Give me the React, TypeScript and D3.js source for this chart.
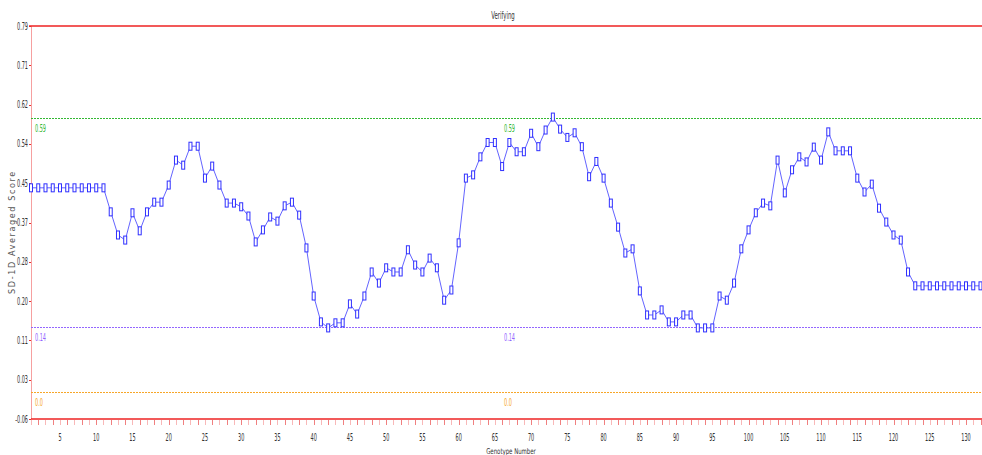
import React from "react";
import * as d3 from "d3";

const titleText = "Verifying";
const xTitle = "Genotype Number";
const yTitle = "SD-1D Averaged Score";

const yTickValues = [-0.06, 0.025, 0.11, 0.195, 0.28, 0.365, 0.45, 0.535, 0.62, 0.705, 0.79];
const yTickLabels = ["-0.06", "0.03", "0.11", "0.20", "0.28", "0.37", "0.45", "0.54", "0.62", "0.71", "0.79"];
const xTickValues = [5, 10, 15, 20, 25, 30, 35, 40, 45, 50, 55, 60, 65, 70, 75, 80, 85, 90, 95, 100, 105, 110, 115, 120, 125, 130];

const refValues = [0.592, 0.138, -0.002];
const refLabels = ["0.59", "0.14", "0.0"];
const refColors = ["#33b833", "#9466ff", "#f7a628"];

const scores = [
  0.44, 0.44, 0.44, 0.44, 0.44, 0.44, 0.44, 0.44, 0.44, 0.44,
  0.44, 0.388, 0.338, 0.327, 0.386, 0.347, 0.388, 0.409, 0.409, 0.446,
  0.5, 0.489, 0.53, 0.53, 0.461, 0.487, 0.446, 0.407, 0.407, 0.399,
  0.379, 0.323, 0.349, 0.377, 0.368, 0.401, 0.409, 0.381, 0.31, 0.206,
  0.15, 0.137, 0.148, 0.148, 0.189, 0.167, 0.206, 0.258, 0.234, 0.267,
  0.258, 0.258, 0.306, 0.273, 0.258, 0.288, 0.267, 0.197, 0.219, 0.321,
  0.461, 0.468, 0.507, 0.538, 0.538, 0.486, 0.538, 0.518, 0.518, 0.558,
  0.529, 0.565, 0.593, 0.567, 0.549, 0.559, 0.529, 0.464, 0.497, 0.461,
  0.407, 0.355, 0.299, 0.308, 0.217, 0.165, 0.165, 0.176, 0.15, 0.15,
  0.165, 0.165, 0.137, 0.137, 0.137, 0.206, 0.197, 0.234, 0.308, 0.349,
  0.386, 0.407, 0.401, 0.5, 0.429, 0.479, 0.507, 0.496, 0.528, 0.5,
  0.561, 0.52, 0.52, 0.52, 0.461, 0.431, 0.448, 0.396, 0.366, 0.338,
  0.327, 0.258, 0.228, 0.228, 0.228, 0.228, 0.228, 0.228, 0.228, 0.228,
  0.228, 0.228,
];

const FONT = "'DejaVu Sans Condensed', 'Liberation Sans Narrow', sans-serif";

function NarrowText({ x, y, anchor = "start", size = 10, sx = 0.6, fill = "#333", rotate = 0, spacing = 0, children }: any) {
  return (
    <g transform={`translate(${x},${y}) rotate(${rotate}) scale(${sx},1)`}>
      <text x={0} y={0} textAnchor={anchor} fontFamily={FONT} fontSize={size} fill={fill} letterSpacing={spacing}>
        {children}
      </text>
    </g>
  );
}

export default function App() {
  const W = 982;
  const H = 455;
  const left = 31;
  const right = 982;
  const top = 26;
  const bottom = 419;

  const x = d3.scaleLinear().domain([1, 132]).range([left, 980.5]);
  const y = d3.scaleLinear().domain([-0.06, 0.79]).range([bottom, top]);

  const line = d3
    .line<number>()
    .x((_, i) => x(i + 1))
    .y((d) => y(d));

  const minorTicks = d3.range(1, 133);

  return (
    <svg
      width={W}
      height={H}
      style={{ position: "absolute", left: 0, top: 0, background: "#fff" }}
    >
      <rect x={0} y={0} width={W} height={H} fill="#fff" />
      {/* title */}
      <NarrowText x={503} y={19} anchor="middle" size={10} sx={0.6}>{titleText}</NarrowText>

      {/* y axis line */}
      <line x1={left + 0.5} x2={left + 0.5} y1={top} y2={bottom} stroke="#f6a0a0" strokeWidth={1} />

      {/* y ticks */}
      {yTickValues.map((v, i) => (
        <g key={"yt" + i}>
          <line x1={left - 2} x2={left} y1={Math.round(y(v)) + 0.5} y2={Math.round(y(v)) + 0.5} stroke="#e83030" strokeWidth={1} />
          <NarrowText x={left - 3} y={y(v) + 3.5} anchor="end" size={10} sx={0.55}>
            {yTickLabels[i]}
          </NarrowText>
        </g>
      ))}

      {/* top and bottom red lines */}
      <line x1={left - 2} x2={right} y1={y(0.79)} y2={y(0.79)} stroke="#ee2222" strokeWidth={1.5} />
      <line x1={left} x2={right} y1={y(-0.06)} y2={y(-0.06)} stroke="#ee2222" strokeWidth={1.5} />

      {/* x minor ticks */}
      {minorTicks.map((t) => (
        <line
          key={"xt" + t}
          x1={Math.round(x(t)) + 0.5}
          x2={Math.round(x(t)) + 0.5}
          y1={bottom + 1}
          y2={bottom + 6}
          stroke={t % 2 === 0 ? "#f08080" : "#f8b8b8"}
          strokeWidth={1}
        />
      ))}
      {xTickValues.map((t) => (
        <NarrowText key={"xl" + t} x={x(t)} y={441} anchor="middle" size={10} sx={0.55}>
          {String(t)}
        </NarrowText>
      ))}

      {/* axis titles */}
      <NarrowText x={511} y={454} anchor="middle" size={8} sx={0.75}>{xTitle}</NarrowText>
      <NarrowText x={15} y={232} anchor="middle" size={9} sx={1} rotate={-90} spacing={1.6} fill="#555">
        {yTitle}
      </NarrowText>

      {/* reference lines */}
      {refValues.map((v, i) => (
        <g key={"ref" + i}>
          <line
            x1={left}
            x2={right}
            y1={Math.round(y(v)) + 0.5}
            y2={Math.round(y(v)) + 0.5}
            stroke={refColors[i]}
            strokeWidth={1}
            strokeDasharray="2,1"
            shapeRendering="crispEdges"
          />
          <NarrowText x={35} y={y(v) + 14} size={10} sx={0.55} fill={refColors[i]}>
            {refLabels[i]}
          </NarrowText>
          <NarrowText x={504} y={y(v) + 14} size={10} sx={0.55} fill={refColors[i]}>
            {refLabels[i]}
          </NarrowText>
        </g>
      ))}

      {/* series line */}
      <path d={line(scores) || ""} fill="none" stroke="#6464ff" strokeWidth={1} />
      {scores.map((v, i) => (
        <rect
          key={"m" + i}
          x={x(i + 1) - 1.5}
          y={y(v) - 4}
          width={3}
          height={8}
          fill="#fff"
          stroke="#3030ff"
          strokeWidth={1}
        />
      ))}
    </svg>
  );
}
